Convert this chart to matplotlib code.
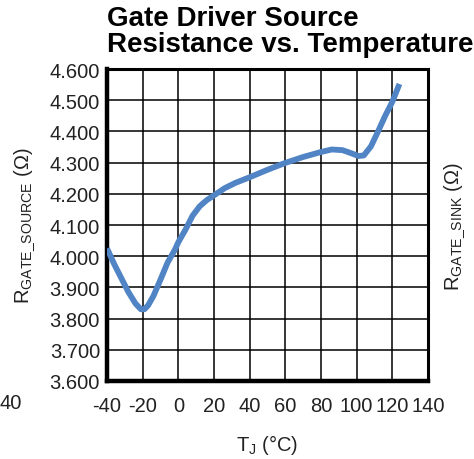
import matplotlib
matplotlib.use("Agg")
import matplotlib.pyplot as plt
from matplotlib.ticker import FormatStrFormatter

plt.rcParams['font.family'] = ['Liberation Sans', 'DejaVu Sans']
plt.rcParams['mathtext.default'] = 'regular'
plt.rcParams['axes.unicode_minus'] = False

# Data
temp_c = [-40, -36, -32, -28, -24, -21, -19, -17, -14, -10, -6, -2, 0, 4, 8, 12, 16, 20,
          26, 32, 40, 50, 60, 70, 80, 86, 92, 97, 101, 104, 108, 112, 116, 120, 124]
r_source = [4.025, 3.975, 3.93, 3.885, 3.848, 3.830, 3.830, 3.842, 3.872, 3.925, 3.98, 4.02,
            4.045, 4.085, 4.13, 4.16, 4.18, 4.195, 4.218, 4.235, 4.253, 4.277, 4.299,
            4.318, 4.334, 4.342, 4.34, 4.33, 4.321, 4.323, 4.352, 4.40, 4.45, 4.495, 4.552]

x_ticks = [-40, -20, 0, 20, 40, 60, 80, 100, 120, 140]
y_ticks = [3.6, 3.7, 3.8, 3.9, 4.0, 4.1, 4.2, 4.3, 4.4, 4.5, 4.6]

W, H = 474, 460
fig = plt.figure(figsize=(W / 100, H / 100), dpi=100)
ax = fig.add_axes([107 / W, 1 - 382 / H, (428 - 107) / W, (382 - 70) / H])

ax.plot(temp_c, r_source, color='#5084c4', lw=4.2, solid_capstyle='butt',
        solid_joinstyle='round', zorder=3)

ax.set_xlim(-40, 140)
ax.set_ylim(3.6, 4.6)
ax.set_xticks(x_ticks)
ax.set_yticks(y_ticks)
ax.yaxis.set_major_formatter(FormatStrFormatter('%.3f'))
ax.grid(True, color='black', lw=1.1)
ax.set_axisbelow(True)
ax.tick_params(axis='both', length=0, labelsize=14.5, colors='#222222')
ax.tick_params(axis='x', pad=11)
ax.tick_params(axis='y', pad=5)

for side, lw in [('left', 3.2), ('bottom', 3.2), ('top', 2.2), ('right', 2.2)]:
    ax.spines[side].set_linewidth(lw)
    ax.spines[side].set_color('black')

ax.set_xlabel('T$_{J}$ (°C)', fontsize=14.5, color='#222222', labelpad=12)
ax.set_ylabel('R$_{GATE\\_SOURCE}$ (Ω)', fontsize=14.5, color='#222222', labelpad=9)

fig.text(455 / W, 1 - 226 / H, 'R$_{GATE\\_SINK}$ (Ω)', rotation=90, fontsize=14.5,
         color='#222222', ha='center', va='center')
fig.text(0, 1 - 404 / H, '40', fontsize=14.5, color='#222222',
         ha='left', va='center')

fig.text(107 / W, 1 - 6 / H, 'Gate Driver Source\nResistance vs. Temperature',
         fontsize=20, fontweight='bold', ha='left', va='top', linespacing=1.0)

fig.savefig('out.png', dpi=100)
